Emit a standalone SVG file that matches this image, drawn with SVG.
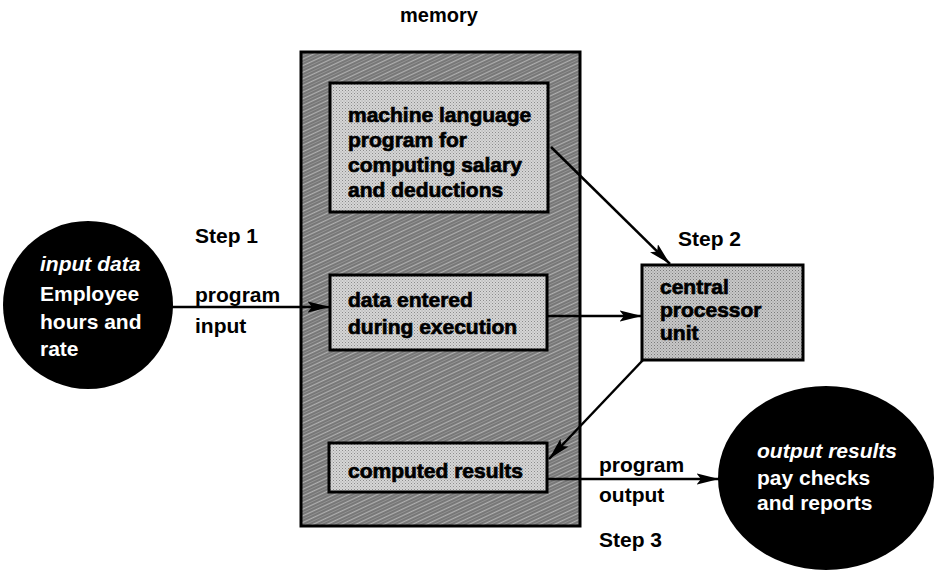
<svg xmlns="http://www.w3.org/2000/svg" width="934" height="571" viewBox="0 0 934 571">
<style>
text{font-family:"Liberation Sans",Arial,Helvetica,sans-serif;font-weight:bold;font-size:21px;fill:#000}
.h{stroke:#000;stroke-width:0.7}
.w{fill:#fff}
.i{font-style:italic}
.box{stroke:#000;stroke-width:3}
.conn line{stroke:#000;stroke-width:2.5;marker-end:url(#ah)}
</style>
<defs>
<pattern id="memTex" width="6" height="6" patternUnits="userSpaceOnUse" patternTransform="rotate(-25)">
<rect width="6" height="6" fill="#747474"/>
<line x1="0" y1="1.5" x2="6" y2="1.5" stroke="#b0b0b0" stroke-width="1.3"/>
<line x1="0" y1="4.5" x2="6" y2="4.5" stroke="#929292" stroke-width="1"/>
</pattern>
<pattern id="boxTex" width="3" height="3" patternUnits="userSpaceOnUse">
<rect width="3" height="3" fill="#d6d6d6"/>
<rect x="0" y="0" width="1" height="1" fill="#8c8c8c"/>
<rect x="1.5" y="1.5" width="1" height="1" fill="#a0a0a0"/>
</pattern>
<pattern id="cpuTex" width="3" height="3" patternUnits="userSpaceOnUse">
<rect width="3" height="3" fill="#c8c8c8"/>
<rect x="0" y="0" width="1" height="1" fill="#7a7a7a"/>
<rect x="1.5" y="1.5" width="1" height="1" fill="#909090"/>
</pattern>
<marker id="ah" viewBox="0 0 20 10" refX="20" refY="5" markerWidth="9" markerHeight="4.5" markerUnits="strokeWidth" orient="auto">
<path d="M0,0 L20,5 L0,10 L4,5 z" fill="#000"/>
</marker>
</defs>

<g id="memory">
<text x="400" y="22" style="font-size:20px">memory</text>
<rect class="box" x="301" y="52" width="279" height="474" fill="url(#memTex)"/>
</g>

<g id="program-box">
<rect class="box" x="330" y="83" width="218" height="129" fill="url(#boxTex)"/>
<text class="h" x="348" y="122">machine language</text>
<text class="h" x="348" y="147">program for</text>
<text class="h" x="348" y="172">computing salary</text>
<text class="h" x="348" y="197">and deductions</text>
</g>

<g id="data-box">
<rect class="box" x="330" y="275" width="217" height="75" fill="url(#boxTex)"/>
<text class="h" x="348" y="307">data entered</text>
<text class="h" x="348" y="334">during execution</text>
</g>

<g id="results-box">
<rect class="box" x="329" y="443" width="218" height="49" fill="url(#boxTex)"/>
<text class="h" x="348" y="478">computed results</text>
</g>

<g id="cpu">
<rect class="box" x="642" y="265" width="161" height="95" fill="url(#cpuTex)"/>
<text class="h" x="660" y="294">central</text>
<text class="h" x="660" y="317">processor</text>
<text class="h" x="660" y="340">unit</text>
</g>

<g id="input-data">
<ellipse cx="88" cy="305" rx="85" ry="84" fill="#000"/>
<text class="w i" x="40" y="271">input data</text>
<text class="w" x="40" y="301">Employee</text>
<text class="w" x="40" y="329">hours and</text>
<text class="w" x="40" y="356">rate</text>
</g>

<g id="output-results">
<ellipse cx="826" cy="478" rx="108" ry="92" fill="#000"/>
<text class="w i" x="757" y="458">output results</text>
<text class="w" x="757" y="485">pay checks</text>
<text class="w" x="757" y="510">and reports</text>
</g>

<g id="labels">
<text x="195" y="243">Step 1</text>
<text x="195" y="302">program</text>
<text x="195" y="333">input</text>
<text x="678" y="246">Step 2</text>
<text x="599" y="472">program</text>
<text x="599" y="502">output</text>
<text x="599" y="547">Step 3</text>
</g>

<g class="conn" id="connectors">
<line x1="172" y1="307" x2="330" y2="307"/>
<line x1="547" y1="316" x2="642" y2="316"/>
<line x1="551" y1="147" x2="670" y2="264"/>
<line x1="643" y1="360" x2="549" y2="459"/>
<line x1="547" y1="479" x2="719" y2="479"/>
</g>
</svg>
